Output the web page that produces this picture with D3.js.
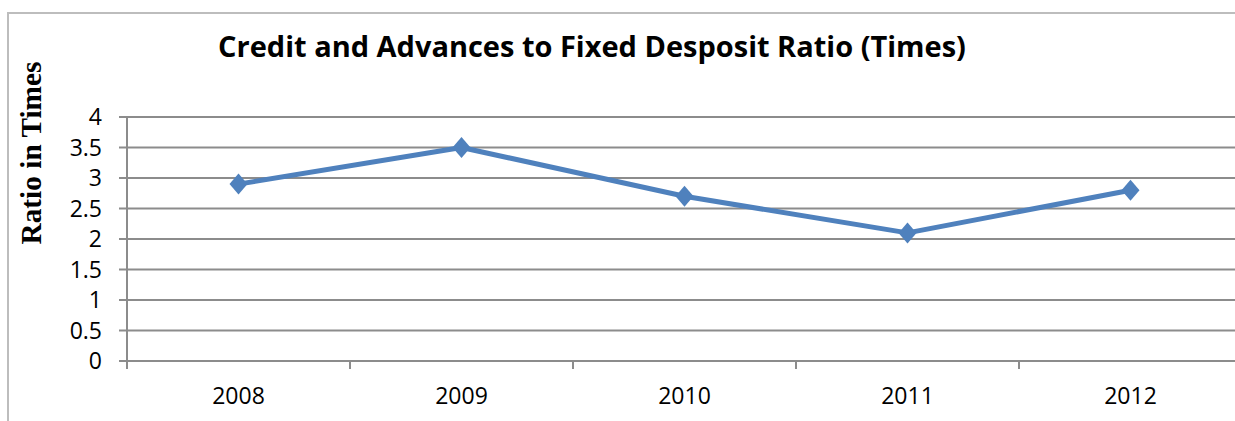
<!DOCTYPE html>
<html><head><meta charset="utf-8">
<script src="https://cdn.jsdelivr.net/npm/d3@7"></script>
<style>html,body{margin:0;padding:0;background:#fff;overflow:hidden}svg{display:block}</style>
</head><body>
<svg id="c" width="1235" height="421"></svg>
<script>
const categories = ["2008","2009","2010","2011","2012"];
const values = [2.9, 3.5, 2.7, 2.1, 2.8];
const yTicks = [0,0.5,1,1.5,2,2.5,3,3.5,4];
const title = "Credit and Advances to Fixed Desposit Ratio (Times)";
const yTitle = "Ratio in Times";

(function(){
const svg = d3.select("#c");
svg.append("rect").attr("x",8).attr("y",13).attr("width",1300).attr("height",500)
  .attr("fill","none").attr("stroke","#bdbdbd").attr("stroke-width",2);

const pLeft = 127, pRight = 1242, pTop = 117, pBottom = 361;
const x = d3.scaleBand().domain(categories).range([pLeft,pRight]);
const y = d3.scaleLinear().domain([0,4]).range([pBottom,pTop]);

svg.append("g").selectAll("line").data(yTicks).join("line")
  .attr("x1",119).attr("x2",1240).attr("y1",d=>y(d)).attr("y2",d=>y(d))
  .attr("stroke","#8c8c8c").attr("stroke-width",2);

svg.append("g").selectAll("text").data(yTicks).join("text")
  .attr("x",102).attr("y",d=>y(d)).attr("dy","0.36em").attr("text-anchor","end")
  .attr("font-family","Open Sans").attr("font-size",23).attr("fill","#000")
  .text(d=>d);

svg.append("line").attr("x1",pLeft).attr("x2",pLeft).attr("y1",pTop).attr("y2",pBottom+8)
  .attr("stroke","#8c8c8c").attr("stroke-width",2);
const bounds = categories.map(c=>x(c)).concat([x(categories[categories.length-1])+x.bandwidth()]);
svg.append("g").selectAll("line").data(bounds.slice(1)).join("line")
  .attr("x1",d=>d).attr("x2",d=>d).attr("y1",pBottom).attr("y2",pBottom+8)
  .attr("stroke","#8c8c8c").attr("stroke-width",2);

svg.append("g").selectAll("text").data(categories).join("text")
  .attr("x",d=>x(d)+x.bandwidth()/2).attr("y",404).attr("text-anchor","middle")
  .attr("font-family","Open Sans").attr("font-size",23).attr("fill","#000")
  .text(d=>d);

const data = categories.map((c,i)=>({c, v: values[i]}));
svg.append("path").datum(data)
  .attr("d", d3.line().x(d=>x(d.c)+x.bandwidth()/2).y(d=>y(d.v)))
  .attr("fill","none").attr("stroke","#4f81bd").attr("stroke-width",5).attr("stroke-linejoin","round");
svg.append("g").selectAll("path").data(data).join("path")
  .attr("transform",d=>`translate(${x(d.c)+x.bandwidth()/2},${y(d.v)})`)
  .attr("d","M0,-10.5L9,0L0,10.5L-9,0Z").attr("fill","#4f81bd");

const t = svg.append("text").attr("x",592).attr("y",57).attr("text-anchor","middle")
  .attr("font-family","Open Sans").attr("font-weight","bold").attr("font-size",24)
  .attr("fill","#000").text(title);
const tw = t.node().getComputedTextLength();
t.attr("font-size", 24*748/tw);

const yt = svg.append("text").attr("transform","translate(41,153) rotate(-90)")
  .attr("text-anchor","middle").attr("font-family","Liberation Serif").attr("font-weight","bold")
  .attr("font-size",24).attr("fill","#000").text(yTitle);
const yw = yt.node().getComputedTextLength();
yt.attr("font-size", 24*183/yw);
})();
</script>
</body></html>
